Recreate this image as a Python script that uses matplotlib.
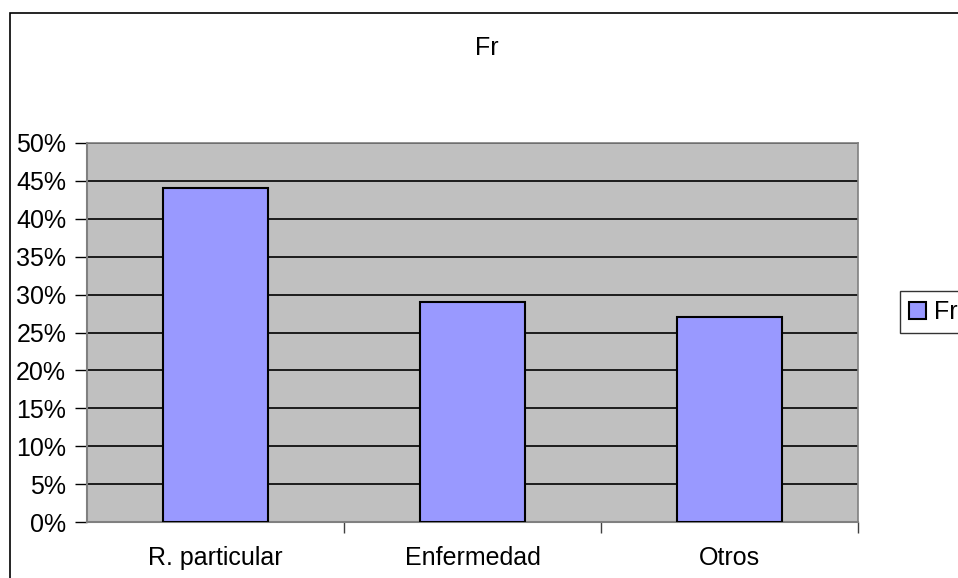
import matplotlib
matplotlib.use("Agg")
from matplotlib import pyplot as plt
from matplotlib.patches import Rectangle
from matplotlib.ticker import FuncFormatter, FixedLocator

plt.rcParams['font.family'] = ['Liberation Sans', 'DejaVu Sans']

# Data
categories = ["R. particular", "Enfermedad", "Otros"]
values = [0.44, 0.29, 0.27]
series_name = "Fr"

W, H = 958, 578
FS = 18
fig = plt.figure(figsize=(W / 100, H / 100), dpi=100)

# Outer chart border (cut off at right and bottom)
fig.patches.append(Rectangle((10 / W, -0.1), 1.2, 1 - 13 / H + 0.1, transform=fig.transFigure,
                             fill=False, edgecolor="black", linewidth=1.2, zorder=0))

ax = fig.add_axes([87 / W, 56 / H, (858 - 87) / W, (522 - 143) / H])
ax.set_facecolor("#C0C0C0")

x = range(len(categories))
ax.bar(x, values, width=0.405, color="#9999FF", edgecolor="black", linewidth=1.5,
       label=series_name, zorder=3)

ax.set_xlim(-0.5, len(categories) - 0.5)
ax.set_ylim(0, 0.5)
ax.set_yticks([i * 0.05 for i in range(11)])
ax.yaxis.set_major_formatter(FuncFormatter(lambda v, p: f"{round(v * 100)}%"))
ax.grid(axis="y", color="black", linewidth=1.2, zorder=1)
ax.set_axisbelow(True)

ax.set_xticks(list(x))
ax.set_xticklabels(categories)
ax.xaxis.set_minor_locator(FixedLocator([0.5, 1.5, 2.5]))
ax.tick_params(axis="x", which="major", length=0, pad=17, labelsize=FS)
ax.tick_params(axis="x", which="minor", length=8, width=1, color="#404040")
ax.tick_params(axis="y", length=9, width=1, color="black", labelsize=FS, pad=6)

for side in ["top", "right"]:
    ax.spines[side].set_color("#808080")
    ax.spines[side].set_linewidth(1.2)
ax.spines["left"].set_color("#808080")
ax.spines["bottom"].set_color("#808080")
ax.spines["left"].set_linewidth(1.5)
ax.spines["bottom"].set_linewidth(1.5)

fig.text(487 / W, 1 - 48 / H, "Fr", ha="center", va="center", fontsize=FS)

leg = fig.legend(loc="center left", bbox_to_anchor=(900 / W, 1 - 312 / H), fontsize=FS,
                 frameon=True, fancybox=False, edgecolor="black", handlelength=0.7,
                 handleheight=0.7, handletextpad=0.3, borderpad=0.35, borderaxespad=0)
leg.get_frame().set_linewidth(1.0)

fig.savefig("out.png", dpi=100)
